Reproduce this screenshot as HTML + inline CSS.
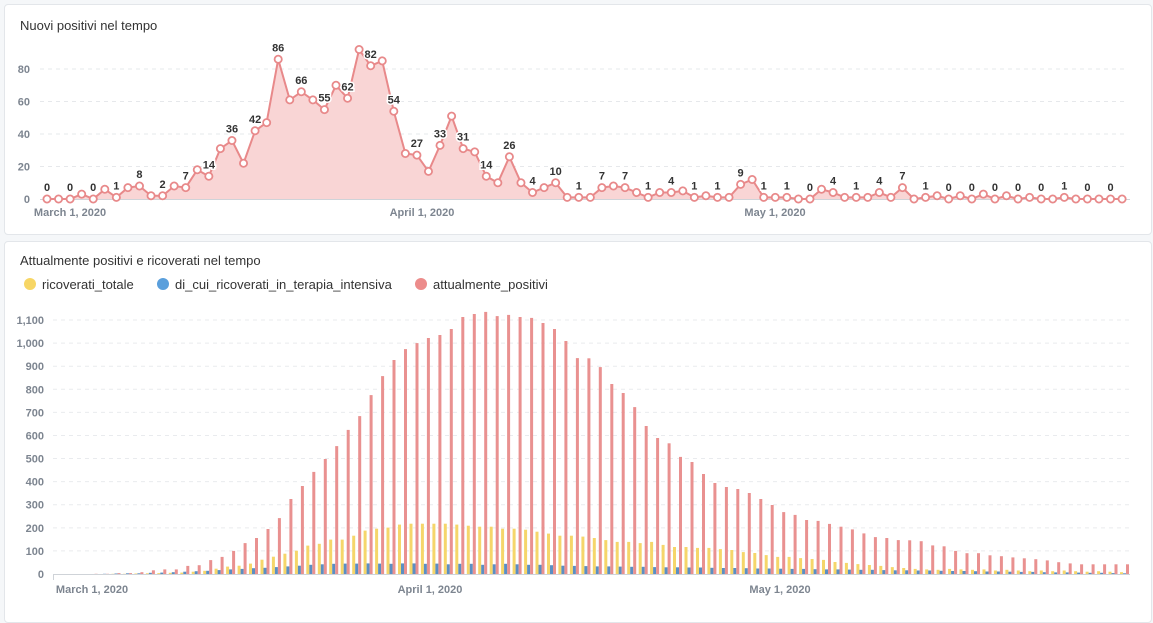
<!DOCTYPE html>
<html><head><meta charset="utf-8">
<style>
html,body{margin:0;padding:0;background:#f5f7f9;width:1153px;height:609px;overflow:hidden;font-family:"Liberation Sans",sans-serif;}
.card{position:absolute;background:#fff;border:1px solid #e3e6ea;border-radius:4px;}
svg{position:absolute;left:0;top:0;}
</style></head><body>
<div class="card" style="left:4px;top:4px;width:1146px;height:229px"></div>
<div class="card" style="left:4px;top:241px;width:1146px;height:380px"></div>
<svg id="s" width="1153" height="609" xmlns="http://www.w3.org/2000/svg"></svg>
<script>
(function(){
var s=document.getElementById('s'),out='';
function t(x,y,txt,sz,col,anc,w,extra){out+='<text x="'+x+'" y="'+y+'" font-size="'+sz+'" fill="'+col+'" text-anchor="'+(anc||'start')+'" font-weight="'+(w||'normal')+'" '+(extra||'')+'>'+txt+'</text>';}
var topd=[0,0,0,3,0,6,1,7,8,2,2,8,7,18,14,31,36,22,42,47,86,61,66,61,55,70,62,92,82,85,54,28,27,17,33,51,31,29,
14,10,26,10,4,7,10,1,1,1,7,8,7,4,1,4,4,5,1,2,1,1,9,12,1,1,1,0,0,6,4,1,1,1,4,1,7,0,1,2,0,2,0,3,0,2,0,1,0,0,1,0,0,0,0,0];
t(20,30,'Nuovi positivi nel tempo',13,'#333');
[0,20,40,60,80].forEach(function(v){var y=199-v*1.625;
 if(v>0)out+='<line x1="40" x2="1126" y1="'+y+'" y2="'+y+'" stroke="#e6e8eb" stroke-dasharray="4,4"/>';
 t(30,y+4,v,11,'#7d8590','end','bold');});
out+='<line x1="40" x2="1130" y1="199.5" y2="199.5" stroke="#cfd3d8"/>';
var X=function(i){return 47+i*11.56},Y=function(v){return 199-v*1.625};
var pts=topd.map(function(v,i){return X(i).toFixed(1)+','+Y(v).toFixed(1)}).join(' ');
out+='<polygon points="47,199 '+pts+' '+X(93)+',199" fill="#f9d5d5"/>';
out+='<polyline points="'+pts+'" fill="none" stroke="#e8898a" stroke-width="2"/>';
topd.forEach(function(v,i){out+='<circle cx="'+X(i)+'" cy="'+Y(v)+'" r="3.6" fill="#fff" stroke="#e8898a" stroke-width="1.8"/>';});
topd.forEach(function(v,i){if(i%2==0)t(X(i),Y(v)-8,v,11,'#333','middle','bold','stroke="#fff" stroke-width="3" paint-order="stroke"');});
t(70,216,'March 1, 2020',11,'#7d8590','middle','bold');
t(422,216,'April 1, 2020',11,'#7d8590','middle','bold');
t(775,216,'May 1, 2020',11,'#7d8590','middle','bold');
t(20,265,'Attualmente positivi e ricoverati nel tempo',13,'#333');
out+='<circle cx="30" cy="284" r="6" fill="#f7d665"/><circle cx="163" cy="284" r="6" fill="#5a9fdc"/><circle cx="421" cy="284" r="6" fill="#ec8c8b"/>';
t(42,289,'ricoverati_totale',13,'#333');t(175,289,'di_cui_ricoverati_in_terapia_intensiva',13,'#333');t(433,289,'attualmente_positivi',13,'#333');
var k=0.2309;
for(var v=0;v<=1100;v+=100){var y=574-v*k;
 if(v>0)out+='<line x1="53" x2="1130" y1="'+y+'" y2="'+y+'" stroke="#e9ebee" stroke-dasharray="4,4"/>';
 var lab=v>=1000?(Math.floor(v/1000)+','+String(v%1000).padStart(3,'0')):String(v);
 t(44,y+4,lab,11,'#7d8590','end','bold');}
var red=[0,0,0,1,1,4,4,8,16,20,20,
35,38,60,74,100,134,156,195,242,325,381,442,498,554,624,684,775,857,927,974,1000,1022,1035,1061,1113,1126,1135,1117,1122,1113,1109,1087,1061,1009,935,
934,896,823,784,723,641,589,566,507,485,433,394,377,368,351,325,299,268,256,234,230,217,205,193,176,160,156,147,146,142,124,120,100,
90,90,81,77,72,68,64,59,51,46,42,42,42,42,42];
var yel=[0,0,0,0,0,1,1,2,3,4,5,
6,10,14,23,32,36,45,62,75,88,101,123,131,149,149,166,188,196,201,214,218,218,218,218,214,209,205,205,196,196,192,183,175,166,166,
162,156,147,139,139,134,139,126,117,117,113,113,108,104,95,91,82,74,74,69,65,61,52,48,43,39,35,30,26,22,
20,18,22,20,18,20,15,18,15,12,15,12,15,12,10,12,10,8];
var blu=[0,0,0,0,1,2,3,3,5,6,8,10,12,14,17,20,22,25,27,30,33,36,40,42,44,45,45,46,45,44,46,46,44,45,42,44,44,40,42,44,42,40,40,38,36,35];
while(blu.length<94){var i=blu.length;blu.push(Math.max(3,Math.round(34-(i-46)*0.65)));}
for(var i=0;i<94;i++){var b=53+i*11.46;
 [[yel[i],'#f5d66a',1.2],[blu[i],'#5a8fc4',4.2],[red[i],'#e99190',7.2]].forEach(function(a){
  var h=(a[0]||0)*k; if(h>0)out+='<rect x="'+(b+a[2]).toFixed(1)+'" y="'+(574-h).toFixed(1)+'" width="3" height="'+h.toFixed(1)+'" fill="'+a[1]+'"/>';});}
out+='<line x1="53" x2="1130" y1="574.5" y2="574.5" stroke="#cfd3d8"/><line x1="53.5" x2="53.5" y1="574" y2="580" stroke="#cfd3d8"/>';
t(92,593,'March 1, 2020',11,'#7d8590','middle','bold');
t(430,593,'April 1, 2020',11,'#7d8590','middle','bold');
t(780,593,'May 1, 2020',11,'#7d8590','middle','bold');
s.innerHTML=out;
})();
</script>
</body></html>
